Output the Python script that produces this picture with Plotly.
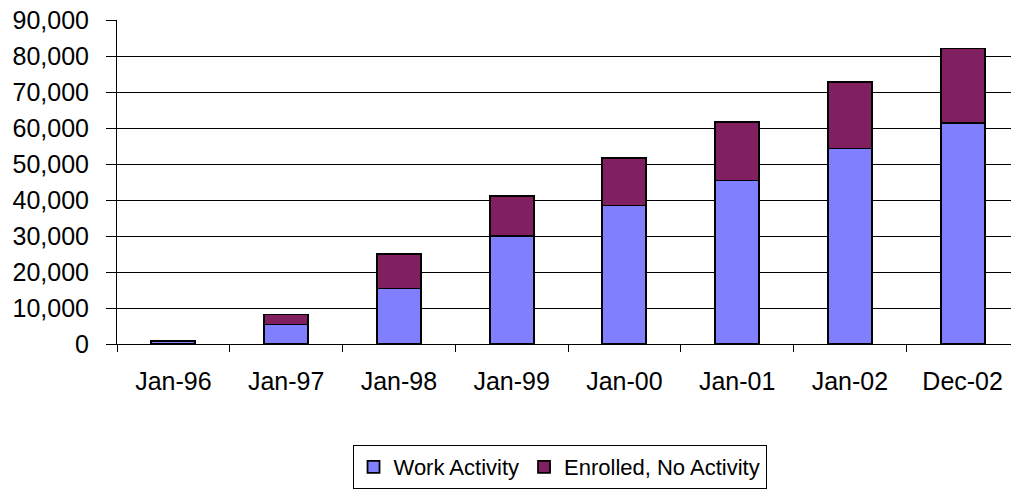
import plotly.graph_objects as go

categories = ["Jan-96", "Jan-97", "Jan-98", "Jan-99", "Jan-00", "Jan-01", "Jan-02", "Dec-02"]
work_activity = [900, 5400, 15400, 30100, 38500, 45400, 54300, 61300]
enrolled_no_activity = [100, 2800, 9700, 11100, 13100, 16300, 18400, 20800]
y_ticks = [0, 10000, 20000, 30000, 40000, 50000, 60000, 70000, 80000, 90000]

font_family = "Liberation Sans, Arial, sans-serif"

fig = go.Figure()
fig.add_trace(go.Bar(
    x=categories, y=work_activity, name="Work Activity",
    marker=dict(color="#8080FF", line=dict(color="black", width=1.8)),
))
fig.add_trace(go.Bar(
    x=categories, y=enrolled_no_activity, name="Enrolled, No Activity",
    marker=dict(color="#802060", line=dict(color="black", width=1.8)),
))

fig.update_layout(
    barmode="stack",
    bargap=0.61,
    width=1011, height=487,
    margin=dict(l=109, r=0, t=12, b=151),
    paper_bgcolor="white", plot_bgcolor="white",
    font=dict(family=font_family, color="black", size=25),
    showlegend=True,
    legend=dict(
        orientation="h", x=0.4906, xanchor="center", y=-0.312, yanchor="top",
        bordercolor="black", borderwidth=1,
        font=dict(size=22, family=font_family),
        traceorder="normal",
    ),
)
fig.update_xaxes(
    type="category",
    showline=True, linecolor="black", linewidth=1,
    ticks="outside", tickson="boundaries", ticklen=7, tickcolor="black",
    ticklabelstandoff=15,
    showgrid=False, automargin=False,
)
fig.update_yaxes(
    range=[0, 90000], tickvals=y_ticks,
    tickformat=",d",
    showline=True, linecolor="black", linewidth=1,
    ticks="outside", ticklen=10, tickcolor="black",
    ticklabelstandoff=12, ticklabeloverflow="allow",
    showgrid=True, gridcolor="black", gridwidth=1,
    zeroline=False, automargin=False,
)

fig.write_html("out.html")
